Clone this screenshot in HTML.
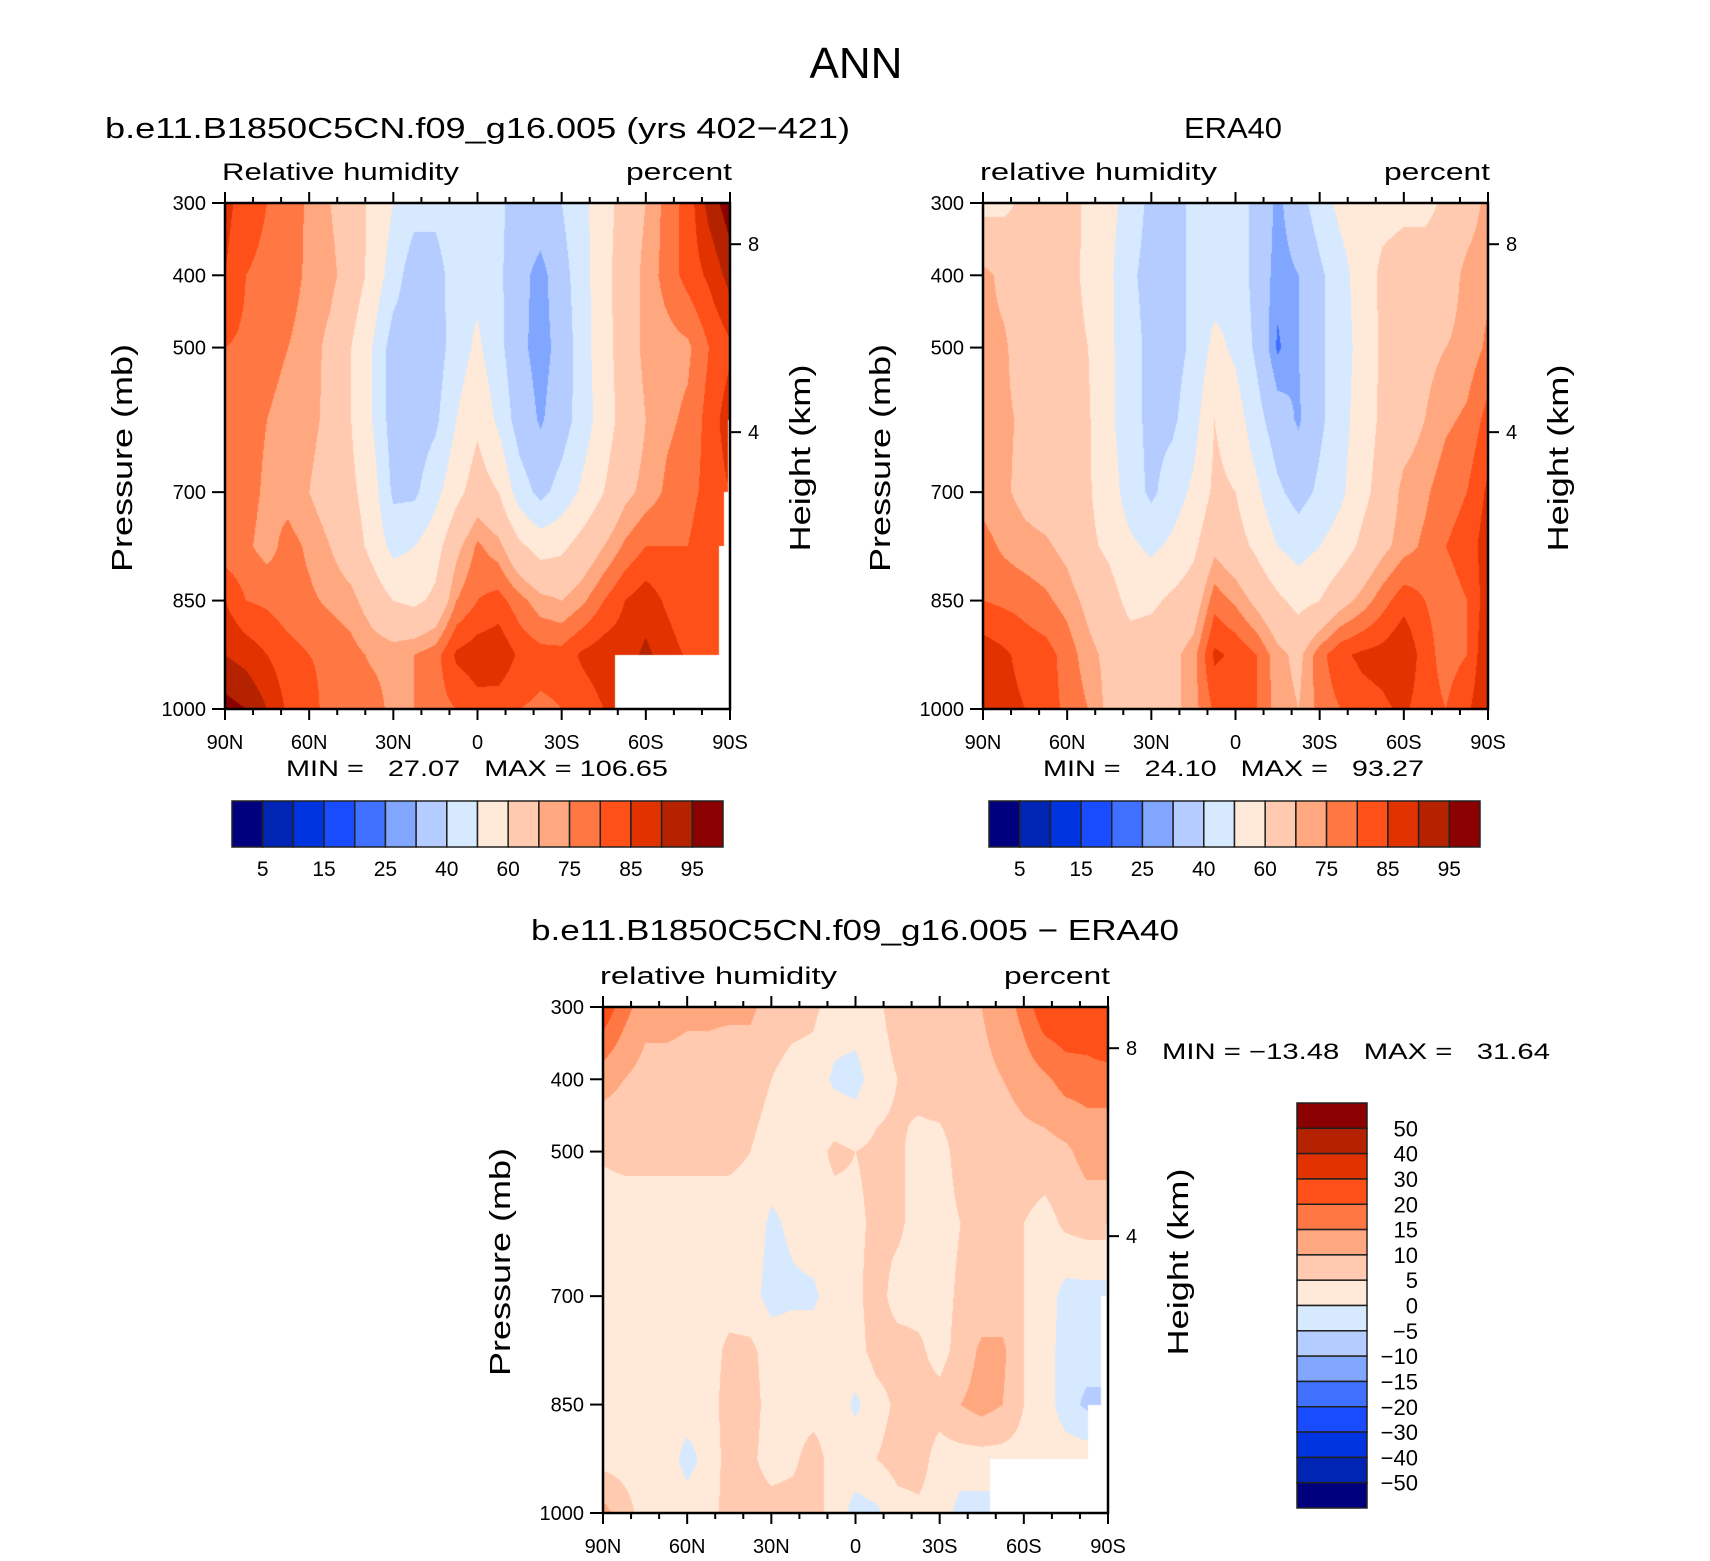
<!DOCTYPE html>
<html><head><meta charset="utf-8">
<style>
html,body{margin:0;padding:0;background:#fff;}
#wrap{position:relative;width:1710px;height:1561px;overflow:hidden;background:#fff;}
canvas{position:absolute;}
svg{position:absolute;left:0;top:0;}
text{font-family:"Liberation Sans",sans-serif;fill:#000;white-space:pre;}
</style></head>
<body>
<div id="wrap">
<canvas id="c1" style="left:225px;top:203px" width="505" height="506"></canvas>
<canvas id="c2" style="left:983px;top:203px" width="505" height="506"></canvas>
<canvas id="c3" style="left:603px;top:1007px" width="505" height="506"></canvas>
<svg id="svg" width="1710" height="1561"></svg>
</div>
<script>
const lats = [90,82.5,75,67.5,60,52.5,45,37.5,30,22.5,15,7.5,0,-7.5,-15,-22.5,-30,-37.5,-45,-52.5,-60,-67.5,-75,-82.5,-90];
const pressures = [300,400,500,600,700,775,850,925,1000];
const modelRH = [
[87,82,80,78,74,70,65,58,50,44,44,50,47,42,36,36,40,48,55,65,70,77,82,92,98],
[85,80,79,77,74,72,66,57,45,34,34,47,47,42,33,27,36,46,57,65,72,77,82,86,92],
[80,79,76,75,73,68,60,50,35,34,35,45,52,43,32,27,33,46,56,65,72,73,74,80,84],
[80,77,75,74,72,68,60,50,35,34,38,50,58,48,35,29,35,45,55,64,70,74,76,82,88],
[79,77,74,73,70,66,62,55,38,38,47,57,65,60,45,37,44,52,60,68,72,76,78,82,85],
[77,76,73,77,74,70,65,57,47,50,56,68,76,72,62,56,58,64,70,76,80,80,80,84,84],
[85,80,79,77,76,74,72,66,60,58,62,75,80,82,77,72,70,74,80,85,88,84,80,80,80],
[90,88,85,82,80,79,77,74,73,75,78,86,88,89,84,82,82,86,88,88,91,88,84,82,82],
[97,95,90,84,82,78,78,78,73,75,78,80,83,82,80,79,80,82,85,85,85,85,85,85,85]];
const eraRH = [
[57,58,62,64,66,57,53,46,37,36,42,49,44,38,28,36,45,53,56,57,58,57,62,66,72],
[72,68,65,64,63,58,52,42,36,36,42,45,47,36,27,30,38,46,55,62,64,66,66,72,74],
[72,71,66,64,63,60,52,44,37,36,42,53,48,38,24,30,38,46,53,62,65,68,70,72,76],
[72,71,69,64,63,61,52,44,37,38,46,60,55,44,34,29,38,46,55,62,66,70,74,76,82],
[73,71,68,66,64,61,55,45,38,45,52,62,60,52,42,36,42,48,57,64,72,74,78,80,86],
[77,74,72,71,68,62,58,52,48,52,58,68,64,58,50,46,50,55,62,68,73,76,80,82,88],
[80,79,78,76,73,68,64,57,58,62,65,78,74,68,62,57,60,67,72,78,83,80,78,80,88],
[88,86,83,82,78,72,68,65,66,68,73,86,84,80,72,68,78,84,86,87,90,82,78,80,90],
[90,87,85,82,79,75,68,66,66,68,73,81,81,80,73,70,77,80,83,84,86,82,80,84,90]];
const diffRH = [
[24,17,12,12,11,11,11,11,8,7,6,3,3,4,7,7,8,9,10,12,17,24,25,26,30],
[12,10,8,8,8,8,7,7,5,3,3,-1,-2,3,5,7,8,8,9,10,12,14,17,17,17],
[5.5,6,6,6,6,6,6,5,3,3,3,6,5,6,6,3,3,7,7,7,8,8,9,12,12],
[3,3,3,3,3,3,3,3,-1,1,3,3,4,6,6,3,3,5,7,7,5,3,6,7,7],
[3,3,3,3,3,3,3,2,-2,-1,-1,3,4,7,3,3,3,6,7,7,5,3,-2,-2,-2],
[3,3,3,3,3,3,6,6,3,3,3,3,3,7,7,6,3,7,11,11,5,3,-3,-3,-3],
[3,3,3,3,3,3,7,7,3,3,3,3,-1,3,6,7,7,10,12,10,5,3,-3,-6,-6],
[3,3,3,3,-2,2,7,6,3,4,7,3,3,5,7,7,3,3,3,3,3,3,3,3,3],
[12,7,3,3,3,3,7,7,7,7,7,3,-2,-1,3,4,3,-2,-2,-2,-2,-2,-2,-2,-2]];
const rhLevels = [5,10,15,20,25,30,40,50,60,70,75,80,85,90,95];
const rhLabels = ['5','15','25','40','60','75','85','95'];
const diffLevels = [-50,-40,-30,-20,-15,-10,-5,0,5,10,15,20,30,40,50];
const diffLabels = ['50','40','30','20','15','10','5','0','\u22125','\u221210','\u221215','\u221220','\u221230','\u221240','\u221250'];
const palette = ['#00007f','#0024b4','#0034e0','#1a4cff','#4070ff','#80a6ff','#b4ccff','#d6e9ff','#ffe9d8','#ffcab0','#ffa880','#ff7844','#ff501a','#e23200','#b42200','#8b0000'];
const xTickLats = [90,60,30,0,-30,-60,-90];
const xTickLabels = ['90N','60N','30N','0','30S','60S','90S'];
const pTicks = [300,400,500,700,850,1000];
const hTickP = [357,617];
const hTickLabels = ['8','4'];
const maskModel = [[-49,925],[-86,775],[-88,700],[-89.3,600]];
const maskEra = [];
const maskDiff = [[-48,925],[-83,850],[-87.5,700],[-89.3,600]];

function hex(c){return [parseInt(c.substr(1,2),16),parseInt(c.substr(3,2),16),parseInt(c.substr(5,2),16)];}
const rgb = palette.map(hex);
function drawField(id, grid, levels, masks){
  const cv=document.getElementById(id), ctx=cv.getContext('2d');
  const w=cv.width,h=cv.height, img=ctx.createImageData(w,h), d=img.data;
  const nl=lats.length-1;
  for(let y=0;y<h;y++){
    const p=300+(y+0.5)/h*700;
    let r=0; while(r<pressures.length-2 && p>pressures[r+1]) r++;
    const t=(p-pressures[r])/(pressures[r+1]-pressures[r]);
    for(let x=0;x<w;x++){
      const fx=(x+0.5)/w*nl; let i=Math.floor(fx); if(i>=nl) i=nl-1; const u=fx-i;
      const v=(grid[r][i]*(1-u)+grid[r][i+1]*u)*(1-t)+(grid[r+1][i]*(1-u)+grid[r+1][i+1]*u)*t;
      const lat=90-(x+0.5)/w*180;
      let masked=false;
      for(const m of masks){ if(lat<=m[0] && p>=m[1]) masked=true; }
      let k=0; while(k<levels.length && v>=levels[k]) k++;
      const c=masked?[255,255,255]:rgb[k];
      const o=(y*w+x)*4; d[o]=c[0];d[o+1]=c[1];d[o+2]=c[2];d[o+3]=255;
    }
  }
  ctx.putImageData(img,0,0);
}
drawField('c1',modelRH,rhLevels,maskModel);
drawField('c2',eraRH,rhLevels,maskEra);
drawField('c3',diffRH,diffLevels,maskDiff);

const NS='http://www.w3.org/2000/svg', svg=document.getElementById('svg');
function el(tag,attrs,parent){const e=document.createElementNS(NS,tag);for(const k in attrs)e.setAttribute(k,attrs[k]);(parent||svg).appendChild(e);return e;}
function txt(s,x,y,size,anchor,extra){const e=el('text',Object.assign({x:x,y:y,'font-size':size,'text-anchor':anchor||'start'},extra||{}));e.textContent=s;return e;}

let t;
t=txt('ANN',856,78,44,'middle');



function panel(px,py,W,H,title,titleX,titleAnchor,titleLen,titleY,leftLbl,minmax,mmX,mmY,mmLen,prefix){
  const tt=txt(title,titleX,titleY,29,titleAnchor,{textLength:titleLen,lengthAdjust:'spacingAndGlyphs'});
  
  
  const l1=txt(leftLbl,px-3,py-23,24,'start',{textLength:237,lengthAdjust:'spacingAndGlyphs'});
  
  
  const l2=txt('percent',px+W+2,py-23,24,'end',{textLength:106,lengthAdjust:'spacingAndGlyphs'});
  
  
  const xs=lat=>px+(90-lat)/180*W, ys=p=>py+(p-300)/700*H;
  for(let lat=90;lat>=-90;lat-=10){
    const major=lat%30===0, L=major?11:6;
    el('line',{x1:xs(lat),x2:xs(lat),y1:py,y2:py-L,stroke:'#000','stroke-width':2});
    el('line',{x1:xs(lat),x2:xs(lat),y1:py+H,y2:py+H+L,stroke:'#000','stroke-width':2});
  }
  xTickLats.forEach((lat,i)=>{const e=txt(xTickLabels[i],xs(lat),py+H+40,20,'middle');
    
    });
  pTicks.forEach(p=>{el('line',{x1:px,x2:px-13,y1:ys(p),y2:ys(p),stroke:'#000','stroke-width':2});
    const e=txt(String(p),px-19,ys(p)+7,20,'end');
    
    });
  hTickP.forEach((p,i)=>{el('line',{x1:px+W,x2:px+W+11,y1:ys(p),y2:ys(p),stroke:'#000','stroke-width':2});
    const e=txt(hTickLabels[i],px+W+18,ys(p)+7,20,'start');
    
    });
  const b=el('rect',{x:px,y:py,width:W,height:H,fill:'none',stroke:'#000','stroke-width':2.5});
  
  
  const cy=py+H/2;
  const ya=txt('Pressure (mb)',0,0,29,'middle',{transform:`translate(${px-93},${cy+2}) rotate(-90)`,textLength:228,lengthAdjust:'spacingAndGlyphs'});
  
  
  const ha=txt('Height (km)',0,0,29,'middle',{transform:`translate(${px+W+80},${cy+2}) rotate(-90)`,textLength:187,lengthAdjust:'spacingAndGlyphs'});
  
  
  const mm=txt(minmax,mmX,mmY,22,'start',{textLength:mmLen,lengthAdjust:'spacingAndGlyphs'});
  
  
}
panel(225,203,505,506,'b.e11.B1850C5CN.f09_g16.005 (yrs 402\u2212421)',105,'start',745,138,'Relative humidity','MIN =   27.07   MAX = 106.65',286,776,382,'model');
panel(983,203,505,506,'ERA40',1233,'middle',98,138,'relative humidity','MIN =   24.10   MAX =   93.27',1043,776,381,'era40');
panel(603,1007,505,506,'b.e11.B1850C5CN.f09_g16.005 \u2212 ERA40',531,'start',648,940,'relative humidity','MIN = \u221213.48   MAX =   31.64',1162,1059,388,'difference');

function hbar(x0,y0,W,H,prefix){
  const n=palette.length, bw=W/n;
  palette.forEach((c,i)=>{const r=el('rect',{x:x0+i*bw,y:y0,width:bw,height:H,fill:c,stroke:'#222','stroke-width':1.5});
    
    });
  rhLabels.forEach((s,j)=>{const e=txt(s,x0+(2*j+1)*bw,y0+H+29,21,'middle');
    
    });
}
hbar(232,801,491,46,'model');
hbar(989,801,491,46,'era40');
(function(){
  const x0=1297,y0=1103,W=70,H=405,n=palette.length,bh=H/n;
  for(let i=0;i<n;i++){const r=el('rect',{x:x0,y:y0+i*bh,width:W,height:bh,fill:palette[n-1-i],stroke:'#222','stroke-width':1.5});
    
    }
  diffLabels.forEach((s,j)=>{const e=txt(s,1418,y0+(j+1)*bh+8,22,'end');
    
    });
})();
</script>
</body></html>
